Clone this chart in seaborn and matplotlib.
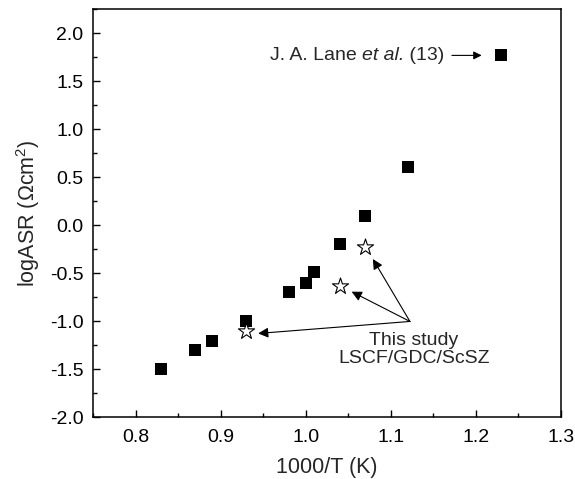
import pandas as pd
import matplotlib
matplotlib.use("Agg")
import matplotlib.pyplot as plt
import seaborn as sns
from matplotlib.ticker import MultipleLocator

# literature data (filled squares)
inv_T = [0.83, 0.87, 0.89, 0.93, 0.98, 1.00, 1.01, 1.04, 1.07, 1.12, 1.23]
log_asr = [-1.50, -1.30, -1.20, -1.00, -0.69, -0.60, -0.49, -0.19, 0.10, 0.61, 1.77]

# this study (open stars)
study_T = [0.93, 1.04, 1.07]
study_asr = [-1.10, -0.63, -0.22]

sns.set_theme(style="ticks")
plt.rcParams['font.family'] = ['Liberation Sans', 'DejaVu Sans']
plt.rcParams['mathtext.fontset'] = 'custom'
plt.rcParams['mathtext.rm'] = 'Liberation Sans'

lit = pd.DataFrame({'x': inv_T, 'y': log_asr})
ours = pd.DataFrame({'x': study_T, 'y': study_asr})

fig = plt.figure(figsize=(5.75, 4.79), dpi=100)
ax = fig.add_axes([0.1623, 0.1284, 0.8128, 0.8522])

sns.scatterplot(data=lit, x='x', y='y', marker='s', s=85, color='black',
                edgecolor='black', linewidth=0, ax=ax, zorder=3)
sns.scatterplot(data=ours, x='x', y='y', marker='*', s=150, color='white',
                edgecolor='black', linewidth=0.8, ax=ax, zorder=3)

ax.set_xlim(0.75, 1.3)
ax.set_ylim(-2.0, 2.25)
ax.xaxis.set_major_locator(MultipleLocator(0.1))
ax.xaxis.set_minor_locator(MultipleLocator(0.05))
ax.set_yticks([-2.0, -1.5, -1.0, -0.5, 0.0, 0.5, 1.0, 1.5, 2.0])
ax.yaxis.set_minor_locator(MultipleLocator(0.25))
ax.xaxis.set_major_formatter(plt.FormatStrFormatter('%.1f'))
ax.yaxis.set_major_formatter(plt.FormatStrFormatter('%.1f'))
ax.tick_params(which='both', direction='in', labelsize=14, width=1, colors='black', pad=7)
ax.tick_params(axis='x', pad=8)
ax.tick_params(which='major', length=5)
ax.tick_params(which='minor', length=3)
for sp in ax.spines.values():
    sp.set_linewidth(1.1)
    sp.set_color('black')

ax.set_xlabel('1000/T (K)', fontsize=15.5, labelpad=8)
ax.set_ylabel(r'logASR ($\Omega$cm$^2$)', fontsize=15.5, labelpad=6)

# Lane annotation
t1 = ax.text(0.958, 1.77, 'J. A. Lane ', fontsize=14, va='center', ha='left')
t2 = ax.annotate('et al.', xy=(1, 0), xycoords=t1, va='bottom', ha='left',
                 fontsize=14, style='italic')
t3 = ax.annotate(' (13)', xy=(1, 0), xycoords=t2, va='bottom', ha='left', fontsize=14)
ax.annotate('', xy=(1.207, 1.77), xytext=(1.172, 1.77),
            arrowprops=dict(arrowstyle='-|>', color='black', lw=0.8,
                            mutation_scale=12, shrinkA=0, shrinkB=0))

# this study arrows
origin = (1.1226, -1.00)
tips = [(0.944, -1.125), (1.054, -0.69), (1.079, -0.35)]
for tip in tips:
    ax.annotate('', xy=tip, xytext=origin,
                arrowprops=dict(arrowstyle='-|>', color='black', lw=0.8,
                                mutation_scale=15, shrinkA=0, shrinkB=0))
ax.text(1.127, -1.11, 'This study\nLSCF/GDC/ScSZ', fontsize=14, ha='center',
        va='top', linespacing=1.05)

fig.savefig('out.png', dpi=100)
